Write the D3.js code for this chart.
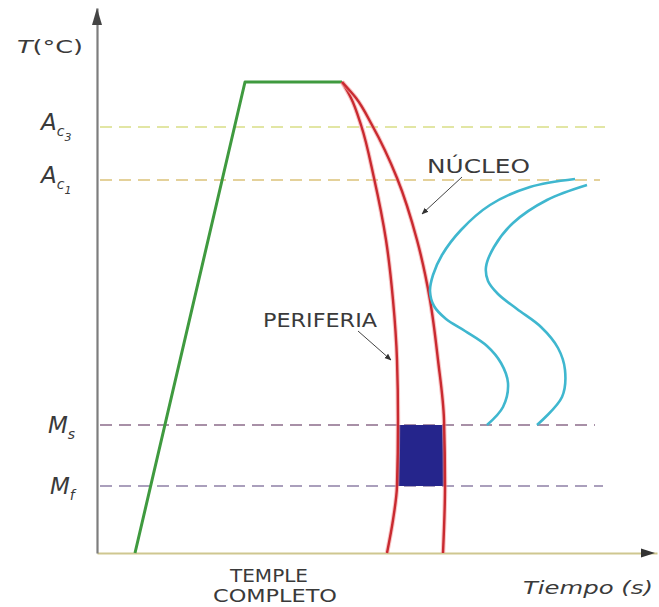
<!DOCTYPE html>
<html><head><meta charset="utf-8">
<script src="https://cdn.jsdelivr.net/npm/d3@7"></script>
<style>
html,body{margin:0;padding:0;background:#fff;}
svg{display:block;}
text{font-family:"DejaVu Sans",sans-serif;fill:#3a3a3a;}
</style></head>
<body>
<svg id="c" width="659" height="607"></svg>
<script>
// ---- data (time units, temperature units) ----
const levelNames = ["Ac3","Ac1","Ms","Mf"];
const levelValues = [426, 373, 128, 67];
const levelEnds = [508, 503, 498, 506];
const plateauT = 471;

const heatTime = [38, 148, 245];
const heatTemp = [0, 471, 471];

const periferiaTime = [245, 254, 264, 277, 289, 296, 300, 301, 300, 296, 290];
const periferiaTemp = [471, 455, 428, 375, 313, 253, 193, 133, 67, 33, 0];

const nucleoTime = [245, 259, 275, 300, 320, 333, 341, 347, 348, 346];
const nucleoTemp = [471, 455, 428, 375, 313, 253, 193, 133, 67, 0];

const ttt1Time = [478, 433, 393, 364, 345, 336, 333, 337, 349, 368, 390, 404, 411, 406, 390];
const ttt1Temp = [374, 366, 348, 323, 298, 278, 262, 247, 234, 222, 207, 190, 170, 146, 128];

const ttt2Time = [490, 450, 416, 397, 389, 391, 401, 420, 444, 461, 468, 465, 440];
const ttt2Temp = [368, 353, 330, 306, 286, 272, 259, 244, 226, 205, 183, 156, 128];

const martensiteTime = [301, 348];
const martensiteTemp = [67, 128];

// ---- scales ----
const x = d3.scaleLinear().domain([0, 560]).range([97, 657]);
const y = d3.scaleLinear().domain([0, 545]).range([553, 8]);

const svg = d3.select("#c");

// dashed reference levels
const levelColors = ["#d9de86", "#dcc27a", "#8c6c8a", "#8f80a6"];
levelValues.forEach((v, i) => {
  svg.append("line")
    .attr("x1", x(3)).attr("x2", x(levelEnds[i]))
    .attr("y1", y(v)).attr("y2", y(v))
    .attr("stroke", levelColors[i]).attr("stroke-width", 1.6)
    .attr("stroke-dasharray", "12,7");
});

// martensite rectangle
svg.append("rect")
  .attr("x", x(martensiteTime[0])).attr("y", y(martensiteTemp[1]))
  .attr("width", x(martensiteTime[1]) - x(martensiteTime[0]))
  .attr("height", y(martensiteTemp[0]) - y(martensiteTemp[1]))
  .attr("fill", "#25258c");

// axes
const xAxis = svg.append("g").attr("transform", `translate(0,${y(0)})`)
  .call(d3.axisBottom(x).tickValues([]).tickSizeOuter(0));
xAxis.select(".domain").attr("stroke", "#cfc790").attr("stroke-width", 1.8);
const yAxis = svg.append("g").attr("transform", `translate(${x(0)},0)`)
  .call(d3.axisLeft(y).tickValues([]).tickSizeOuter(0));
yAxis.select(".domain").attr("stroke", "#7d7d7d").attr("stroke-width", 2.2);

// axis arrowheads
const x0 = x(0), y0 = y(0), yTop = y(545), xEnd = x(560);
svg.append("path").attr("d", `M${x0},${yTop} L${x0-5},${yTop+17} L${x0+5},${yTop+17}Z`).attr("fill", "#444");
svg.append("path").attr("d", `M${xEnd-2},${y0} L${xEnd-16},${y0-4.5} L${xEnd-16},${y0+4.5}Z`).attr("fill", "#333");

// lines
const zip = (a, b) => a.map((v, i) => [v, b[i]]);
const lin = d3.line().x(d => x(d[0])).y(d => y(d[1]));
const monoY = d3.line().x(d => x(d[0])).y(d => y(d[1])).curve(d3.curveMonotoneY);
const smooth = d3.line().x(d => x(d[0])).y(d => y(d[1])).curve(d3.curveCatmullRom.alpha(0.5));

svg.append("path").datum(zip(heatTime, heatTemp)).attr("d", lin)
  .attr("fill", "none").attr("stroke", "#3f9a3f").attr("stroke-width", 3).attr("stroke-linejoin", "round");

[[periferiaTime, periferiaTemp], [nucleoTime, nucleoTemp]].forEach(([t, T]) => {
  svg.append("path").datum(zip(t, T)).attr("d", monoY)
    .attr("fill", "none").attr("stroke", "#f4a0a0").attr("stroke-width", 4.5).attr("opacity", 0.6);
  svg.append("path").datum(zip(t, T)).attr("d", monoY)
    .attr("fill", "none").attr("stroke", "#c92a30").attr("stroke-width", 2.4);
});

[[ttt1Time, ttt1Temp], [ttt2Time, ttt2Temp]].forEach(([t, T]) => {
  svg.append("path").datum(zip(t, T)).attr("d", smooth)
    .attr("fill", "none").attr("stroke", "#3fb7cf").attr("stroke-width", 2.6);
});

// annotation arrows
const defs = svg.append("defs");
defs.append("marker").attr("id", "ah").attr("viewBox", "0 0 10 10")
  .attr("refX", 9).attr("refY", 5).attr("markerWidth", 7).attr("markerHeight", 7)
  .attr("orient", "auto").append("path").attr("d", "M0,1 L10,5 L0,9 Z").attr("fill", "#333");
svg.append("line").attr("x1", x(365)).attr("y1", y(376)).attr("x2", x(325)).attr("y2", y(339))
  .attr("stroke", "#444").attr("stroke-width", 1).attr("marker-end", "url(#ah)");
svg.append("line").attr("x1", x(261)).attr("y1", y(222)).attr("x2", x(294)).attr("y2", y(193))
  .attr("stroke", "#444").attr("stroke-width", 1).attr("marker-end", "url(#ah)");

// texts
svg.append("text").attr("x", 427).attr("y", 173).attr("font-size", 19)
  .attr("textLength", 103).attr("lengthAdjust", "spacingAndGlyphs").text("NÚCLEO");
svg.append("text").attr("x", 263).attr("y", 327).attr("font-size", 19)
  .attr("textLength", 114).attr("lengthAdjust", "spacingAndGlyphs").text("PERIFERIA");
svg.append("text").attr("x", 269).attr("y", 582).attr("font-size", 18).attr("text-anchor", "middle")
  .attr("textLength", 78).attr("lengthAdjust", "spacingAndGlyphs").text("TEMPLE");
svg.append("text").attr("x", 275).attr("y", 602).attr("font-size", 18).attr("text-anchor", "middle")
  .attr("textLength", 124).attr("lengthAdjust", "spacingAndGlyphs").text("COMPLETO");
svg.append("text").attr("x", 523).attr("y", 594).attr("font-size", 17).attr("font-style", "italic")
  .attr("textLength", 130).attr("lengthAdjust", "spacingAndGlyphs").text("Tiempo (s)");
svg.append("text").attr("x", 17).attr("y", 53).attr("font-size", 18)
  .attr("textLength", 66).attr("lengthAdjust", "spacingAndGlyphs")
  .call(t => { t.append("tspan").attr("font-style", "italic").text("T"); t.append("tspan").text("(°C)"); });

// level labels
function levelLabel(main, sub, subsub, xx, baseY) {
  const t = svg.append("text").attr("x", xx).attr("y", baseY).attr("font-style", "italic").attr("font-size", 23);
  t.append("tspan").text(main);
  t.append("tspan").attr("font-size", 14).attr("dy", 6).text(sub);
  if (subsub) t.append("tspan").attr("font-size", 11).attr("dy", 5).text(subsub);
}
levelLabel("A", "c", "3", 41, y(levelValues[0]) + 3);
levelLabel("A", "c", "1", 41, y(levelValues[1]) + 3);
levelLabel("M", "s", null, 48, y(levelValues[2]) + 8);
levelLabel("M", "f", null, 50, y(levelValues[3]) + 8);
</script>
</body></html>
